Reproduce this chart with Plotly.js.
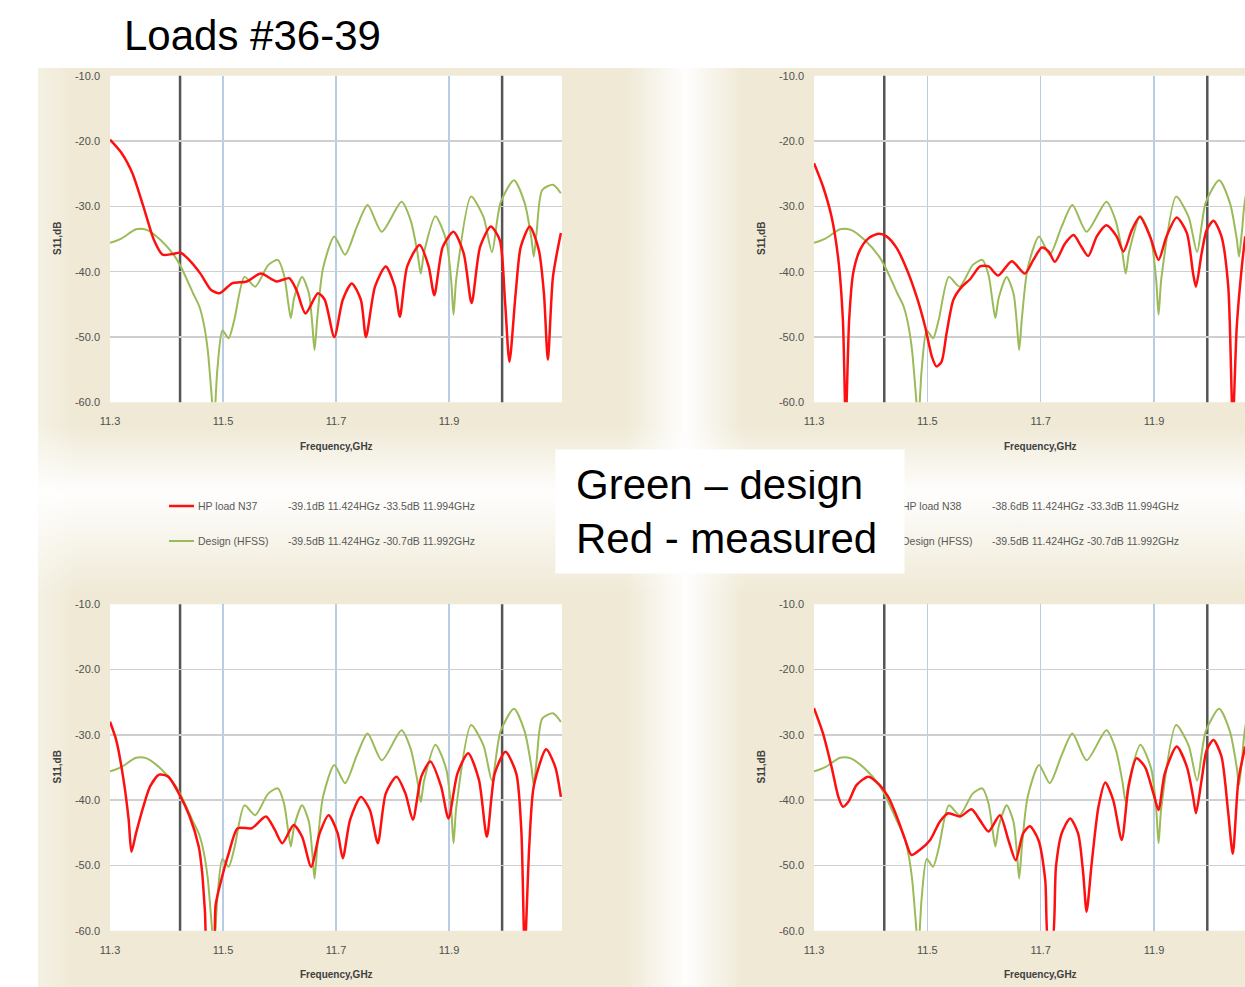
<!DOCTYPE html>
<html><head><meta charset="utf-8">
<script src="https://cdn.plot.ly/plotly-3.0.1.min.js"></script>
<style>html,body{margin:0;padding:0;background:#fff;} #chart{width:1245px;height:987px;}</style>
</head><body><div id="chart"></div>
<script>
// ---------------- DATA ----------------
const xTickVals = [11.3, 11.5, 11.7, 11.9];
const xTickText = ["11.3", "11.5", "11.7", "11.9"];
const yTickVals = [-10, -20, -30, -40, -50, -60];
const yTickText = ["-10.0", "-20.0", "-30.0", "-40.0", "-50.0", "-60.0"];
const markerFreqs = [11.424, 11.994];

// Design (HFSS) - same in all four charts
const designFreq = [11.300, 11.321, 11.346, 11.365, 11.390, 11.415, 11.428, 11.447, 11.458, 11.466, 11.473, 11.479, 11.484, 11.490, 11.499, 11.510, 11.520, 11.538, 11.557, 11.580, 11.597, 11.608, 11.615, 11.620, 11.626, 11.640, 11.652, 11.658, 11.662, 11.667, 11.677, 11.697, 11.716, 11.737, 11.756, 11.781, 11.816, 11.832, 11.844, 11.850, 11.856, 11.876, 11.895, 11.904, 11.908, 11.913, 11.939, 11.961, 11.976, 11.991, 12.015, 12.034, 12.046, 12.050, 12.055, 12.065, 12.084, 12.098];
const designS11 = [-35.6, -34.9, -33.5, -33.6, -35.2, -37.7, -39.7, -43.3, -45.3, -48.0, -52.0, -58.0, -63.0, -55.0, -49.0, -50.2, -47.4, -40.8, -42.3, -39.0, -38.2, -40.5, -44.5, -47.1, -44.0, -40.8, -43.3, -48.0, -52.0, -47.0, -39.5, -34.6, -37.4, -33.1, -29.8, -33.9, -29.3, -32.1, -37.0, -40.3, -37.0, -31.5, -35.2, -41.5, -46.6, -41.0, -28.5, -31.6, -37.0, -29.5, -26.0, -29.5, -35.0, -37.7, -34.0, -27.5, -26.7, -28.0];

// Measured: HP load N37 (top-left)
const n37Freq = [11.300, 11.321, 11.340, 11.359, 11.378, 11.393, 11.410, 11.425, 11.440, 11.460, 11.479, 11.494, 11.516, 11.542, 11.567, 11.595, 11.617, 11.630, 11.646, 11.668, 11.680, 11.697, 11.712, 11.728, 11.744, 11.753, 11.769, 11.788, 11.804, 11.813, 11.826, 11.848, 11.864, 11.874, 11.889, 11.908, 11.926, 11.940, 11.955, 11.974, 11.990, 11.999, 12.007, 12.018, 12.027, 12.043, 12.059, 12.068, 12.075, 12.084, 12.098];
const n37S11 = [-19.8, -21.9, -25.0, -30.0, -35.2, -37.4, -37.3, -37.1, -38.2, -40.3, -42.8, -43.3, -41.8, -41.5, -40.3, -41.5, -41.0, -42.8, -46.4, -43.3, -44.3, -50.0, -44.3, -41.8, -44.3, -50.0, -42.3, -39.2, -42.3, -46.9, -39.2, -35.9, -39.2, -43.6, -36.2, -33.9, -37.2, -44.8, -36.2, -33.1, -35.2, -44.3, -53.8, -43.3, -36.2, -33.1, -36.7, -43.3, -53.5, -40.8, -34.1];

// Measured: HP load N38 (top-right)
const n38Freq = [11.300, 11.316, 11.331, 11.343, 11.351, 11.356, 11.362, 11.369, 11.381, 11.396, 11.414, 11.428, 11.446, 11.464, 11.481, 11.496, 11.508, 11.516, 11.525, 11.534, 11.546, 11.561, 11.575, 11.593, 11.608, 11.625, 11.649, 11.672, 11.687, 11.702, 11.714, 11.725, 11.743, 11.758, 11.772, 11.784, 11.799, 11.816, 11.834, 11.846, 11.861, 11.875, 11.893, 11.908, 11.922, 11.940, 11.958, 11.969, 11.974, 11.984, 11.993, 12.005, 12.019, 12.031, 12.039, 12.046, 12.055, 12.061];
const n38S11 = [-23.4, -27.0, -31.6, -38.2, -47.4, -63.0, -47.4, -40.3, -36.7, -34.9, -34.2, -34.6, -36.4, -39.7, -43.8, -48.4, -53.0, -54.5, -53.8, -49.4, -44.3, -42.3, -41.2, -39.2, -39.2, -40.6, -38.4, -40.3, -38.2, -36.3, -36.9, -38.5, -35.7, -34.4, -36.2, -37.6, -34.6, -32.9, -34.6, -36.9, -33.6, -31.6, -34.6, -38.2, -34.6, -31.7, -34.1, -40.3, -42.3, -37.2, -33.6, -32.2, -34.6, -42.3, -63.0, -48.4, -39.2, -34.6];

// Measured: bottom-left load
const n39Freq = [11.300, 11.311, 11.324, 11.333, 11.338, 11.346, 11.359, 11.371, 11.387, 11.403, 11.422, 11.441, 11.457, 11.463, 11.468, 11.473, 11.482, 11.487, 11.497, 11.510, 11.526, 11.551, 11.576, 11.592, 11.605, 11.625, 11.640, 11.656, 11.671, 11.687, 11.703, 11.712, 11.725, 11.744, 11.760, 11.774, 11.788, 11.807, 11.823, 11.836, 11.851, 11.867, 11.886, 11.899, 11.915, 11.934, 11.953, 11.967, 11.981, 12.000, 12.019, 12.028, 12.034, 12.042, 12.050, 12.072, 12.088, 12.098];
const n39S11 = [-28.0, -30.8, -36.9, -43.0, -47.9, -45.1, -41.0, -37.9, -36.1, -36.4, -39.0, -42.5, -47.1, -51.0, -57.0, -63.0, -63.0, -56.0, -52.2, -48.2, -44.3, -44.3, -42.5, -44.6, -46.6, -43.8, -45.6, -50.2, -45.1, -42.3, -45.1, -48.9, -43.0, -39.5, -41.5, -46.6, -39.0, -36.4, -39.0, -43.0, -36.4, -34.1, -37.9, -42.8, -35.9, -32.8, -36.9, -45.6, -35.9, -32.6, -35.9, -44.6, -63.0, -47.1, -37.9, -32.2, -34.9, -39.5];

// Measured: bottom-right load
const n36Freq = [11.300, 11.316, 11.331, 11.343, 11.351, 11.361, 11.375, 11.396, 11.416, 11.431, 11.446, 11.461, 11.472, 11.487, 11.505, 11.522, 11.537, 11.558, 11.578, 11.593, 11.608, 11.628, 11.643, 11.656, 11.669, 11.681, 11.696, 11.708, 11.714, 11.720, 11.727, 11.737, 11.752, 11.766, 11.775, 11.781, 11.790, 11.802, 11.814, 11.828, 11.843, 11.855, 11.869, 11.884, 11.899, 11.908, 11.919, 11.940, 11.958, 11.969, 11.974, 11.984, 11.993, 12.005, 12.019, 12.031, 12.039, 12.049, 12.061];
const n36S11 = [-25.9, -29.8, -34.9, -39.5, -41.0, -40.2, -37.7, -36.4, -37.7, -39.5, -42.5, -46.1, -48.4, -47.6, -46.1, -43.3, -42.0, -42.5, -41.4, -43.1, -44.8, -42.3, -46.1, -49.2, -45.1, -44.0, -46.1, -52.2, -62.0, -62.0, -50.2, -45.1, -42.8, -45.1, -51.2, -57.1, -49.7, -41.0, -37.3, -40.0, -46.1, -38.0, -33.6, -34.9, -39.0, -41.5, -35.9, -31.8, -34.9, -39.5, -42.0, -36.9, -32.3, -30.8, -33.3, -42.0, -48.2, -36.9, -31.8];

const seriesNames = ["HP load N37", "HP load N38", "HP load N39", "HP load N36"];
const designName = "Design (HFSS)";
const legendMeasured = ["-39.1dB 11.424HGz -33.5dB 11.994GHz", "-38.6dB 11.424HGz -33.3dB 11.994GHz"];
const legendDesign = ["-39.5dB 11.424HGz -30.7dB 11.992GHz", "-39.5dB 11.424HGz -30.7dB 11.992GHz"];
const pageTitle = "Loads #36-39";
const noteLines = ["Green \u2013 design", "Red - measured"];

// ---------------- STYLE / LAYOUT ----------------
const W = 1245, H = 987;
const FONT = '"Liberation Sans", Arial, sans-serif';
const RED = '#ff1010', GREEN = '#9bbb59';
const px = x => x / W, py = y => 1 - y / H;

const measured = [[n37Freq, n37S11], [n38Freq, n38S11], [n39Freq, n39S11], [n36Freq, n36S11]];
const suffix = ['', '2', '3', '4'];

const traces = [];
measured.forEach((m, i) => {
  const ax = {xaxis: 'x' + suffix[i], yaxis: 'y' + suffix[i]};
  traces.push(Object.assign({type: 'scatter', mode: 'lines', name: designName, x: designFreq, y: designS11,
    line: {color: GREEN, width: 2, shape: 'spline', smoothing: 0.7}, showlegend: false}, ax));
  traces.push(Object.assign({type: 'scatter', mode: 'lines', name: seriesNames[i], x: m[0], y: m[1],
    line: {color: RED, width: 2.5, shape: 'spline', smoothing: 0.7}, showlegend: false}, ax));
});

const PL = 110, PR = 562, PL2 = 814, PT = 75.7, PB = 402.3, PT2 = 604.3, PB2 = 930.7;
const xDomL = [px(PL), px(PR)], xDomR = [px(PL2), 1];
const yDomT = [py(PB), py(PT)], yDomB = [py(PB2), py(PT2)];
const rightMax = 11.3 + (W - PL2) / 566.7;

function xax(dom, rng, anchor) {
  return {domain: dom, range: rng, anchor: anchor, tickvals: xTickVals, ticktext: xTickText,
    showgrid: true, gridcolor: '#b8cce4', gridwidth: 1.5, zeroline: false, showline: false, ticks: '',
    ticklabelstandoff: 11, tickfont: {family: FONT, size: 11, color: '#505050'}, fixedrange: true};
}
function yax(dom, anchor) {
  return {domain: dom, range: [-60, -10], anchor: anchor, tickvals: yTickVals, ticktext: yTickText,
    showgrid: true, gridcolor: '#cfcfcf', gridwidth: 1.5, zeroline: false, showline: false, ticks: '',
    ticklabelstandoff: 9, tickfont: {family: FONT, size: 11, color: '#505050'}, fixedrange: true};
}

const shapes = [];
const annotations = [];
const doms = [[xDomL, yDomT], [xDomR, yDomT], [xDomL, yDomB], [xDomR, yDomB]];
doms.forEach((d, i) => {
  markerFreqs.forEach(f => shapes.push({type: 'line', xref: 'x' + suffix[i], yref: 'y' + suffix[i] + ' domain',
    x0: f, x1: f, y0: 0, y1: 1, line: {color: '#555555', width: 2.5}, layer: 'below'}));
  annotations.push({xref: 'x' + suffix[i], yref: 'y' + suffix[i] + ' domain', x: 11.7, y: 0, yshift: -44,
    xanchor: 'center', yanchor: 'middle', showarrow: false, text: '<b>Frequency,GHz</b>',
    font: {family: FONT, size: 10, color: '#404040'}});
  annotations.push({xref: 'x' + suffix[i] + ' domain', yref: 'y' + suffix[i] + ' domain', x: 0, y: 0.5, xshift: -53,
    xanchor: 'center', yanchor: 'middle', textangle: -90, showarrow: false, text: '<b>S11,dB</b>',
    font: {family: FONT, size: 10, color: '#404040'}});
});

// legends (top charts)
[[PL, 0], [PL2, 1]].forEach(([left, k]) => {
  const rows = [[506, RED, 2.5, seriesNames[k], legendMeasured[k]], [541, GREEN, 2, designName, legendDesign[k]]];
  rows.forEach(r => {
    shapes.push({type: 'line', xref: 'paper', yref: 'paper', x0: px(left + 59), x1: px(left + 84), y0: py(r[0]), y1: py(r[0]),
      line: {color: r[1], width: r[2]}});
    annotations.push({xref: 'paper', yref: 'paper', x: px(left + 86), y: py(r[0]), xanchor: 'left', yanchor: 'middle',
      showarrow: false, text: r[3], font: {family: FONT, size: 10.5, color: '#595959'}});
    annotations.push({xref: 'paper', yref: 'paper', x: px(left + 176), y: py(r[0]), xanchor: 'left', yanchor: 'middle',
      showarrow: false, text: r[4], font: {family: FONT, size: 10.5, color: '#595959'}});
  });
});

// white note box
annotations.push({xref: 'paper', yref: 'paper', x: px(555), y: py(449), xanchor: 'left', yanchor: 'top',
  showarrow: false, text: noteLines.join('<br>'), align: 'left', width: 308, height: 83, borderpad: 20,
  bgcolor: '#ffffff', font: {family: FONT, size: 42, color: '#000'}});
// page title
annotations.push({xref: 'paper', yref: 'paper', x: px(122), y: py(35), xanchor: 'left', yanchor: 'middle',
  showarrow: false, text: pageTitle, font: {family: FONT, size: 42, color: '#000'}});

function plotRect(x0, y0, x1, y1) {
  return "<rect x='" + x0 + "' y='" + y0 + "' width='" + (x1 - x0) + "' height='" + (y1 - y0) + "' fill='#ffffff'/>";
}
const bgSvg = "<svg xmlns='http://www.w3.org/2000/svg' width='1245' height='987'>" +
  "<defs>" +
  "<linearGradient id='v' x1='0' y1='0' x2='1' y2='0'><stop offset='0' stop-color='#ffffff' stop-opacity='0'/><stop offset='0.5' stop-color='#ffffff' stop-opacity='0.95'/><stop offset='1' stop-color='#ffffff' stop-opacity='0'/></linearGradient>" +
  "<linearGradient id='h' x1='0' y1='0' x2='0' y2='1'><stop offset='0' stop-color='#ffffff' stop-opacity='0'/><stop offset='0.4' stop-color='#ffffff' stop-opacity='0.95'/><stop offset='1' stop-color='#ffffff' stop-opacity='0'/></linearGradient>" +
  "<linearGradient id='l' x1='0' y1='0' x2='1' y2='0'><stop offset='0' stop-color='#ffffff' stop-opacity='0.35'/><stop offset='1' stop-color='#ffffff' stop-opacity='0'/></linearGradient>" +
  "</defs>" +
  "<rect x='38' y='68' width='1207' height='919' fill='#efe9d5'/>" +
  "<rect x='38' y='68' width='40' height='919' fill='url(#l)'/>" +
  "<rect x='625' y='68' width='120' height='919' fill='url(#v)'/>" +
  "<rect x='38' y='425' width='1207' height='170' fill='url(#h)'/>" +
  plotRect(PL, PT, PR, PB) + plotRect(PL2, PT, W, PB) + plotRect(PL, PT2, PR, PB2) + plotRect(PL2, PT2, W, PB2) +
  "</svg>";

const layout = {
  width: W, height: H, margin: {l: 0, r: 0, t: 0, b: 0},
  paper_bgcolor: '#ffffff', plot_bgcolor: '#ffffff', showlegend: false,
  font: {family: FONT},
  xaxis: xax(xDomL, [11.3, 12.1], 'y'), yaxis: yax(yDomT, 'x'),
  xaxis2: xax(xDomR, [11.3, rightMax], 'y2'), yaxis2: yax(yDomT, 'x2'),
  xaxis3: xax(xDomL, [11.3, 12.1], 'y3'), yaxis3: yax(yDomB, 'x3'),
  xaxis4: xax(xDomR, [11.3, rightMax], 'y4'), yaxis4: yax(yDomB, 'x4'),
  shapes: shapes, annotations: annotations,
  images: [{source: 'data:image/svg+xml;charset=utf-8,' + encodeURIComponent(bgSvg), xref: 'paper', yref: 'paper',
    x: 0, y: 1, sizex: 1, sizey: 1, xanchor: 'left', yanchor: 'top', sizing: 'stretch', layer: 'below'}]
};

Plotly.newPlot('chart', traces, layout, {displayModeBar: false, staticPlot: true});
</script></body></html>
